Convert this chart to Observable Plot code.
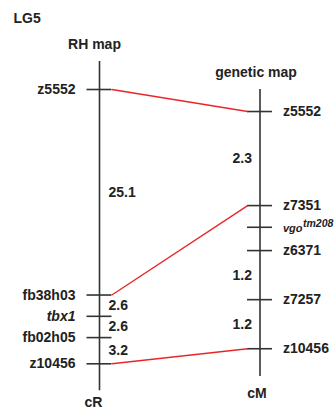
<!DOCTYPE html>
<html>
<head>
<meta charset="utf-8">
<script src="https://cdn.jsdelivr.net/npm/d3@7"></script>
<script src="https://cdn.jsdelivr.net/npm/@observablehq/plot@0.6"></script>
<style>
  html, body { margin: 0; padding: 0; background: #fff; }
  #chart svg { display: block; }
</style>
</head>
<body>
<div id="chart"></div>
<script>
// ---- Data ----
const chartTitle = "LG5";
const mapTitles = ["RH map", "genetic map"];
const mapUnits = ["cR", "cM"];

// RH map (cR): markers top to bottom and the distances between neighbours
const leftMarkers = ["z5552", "fb38h03", "tbx1", "fb02h05", "z10456"];
const leftGaps = [25.1, 2.6, 2.6, 3.2];
const leftGapLabels = ["25.1", "2.6", "2.6", "3.2"];

// genetic map (cM): markers top to bottom; drawn spacing (co-located cluster spread out)
const rightMarkers = ["z5552", "z7351", "vgo", "z6371", "z7257", "z10456"];
const rightGaps = [2.3, 0.53, 0.57, 1.2, 1.2];
const rightGapLabels = ["2.3", "", "", "1.2", "1.2"];
const vgoAllele = "tm208";

const italicMarkers = ["tbx1", "vgo"];
const links = [["z5552", "z5552"], ["fb38h03", "z7351"], ["z10456", "z10456"]];

// ---- Build ----
const leftPos = [0, ...d3.cumsum(leftGaps)];
const rightPosCM = [0, ...d3.cumsum(rightGaps)];
// right map drawn on the same vertical as the left one (cR units)
const rOffset = 2.69, rScale = 4.995;
const toR = cm => rOffset + rScale * cm;

const left = leftMarkers.map((m, i) => ({name: m, x: 0, y: leftPos[i]}));
const right = rightMarkers.map((m, i) => ({name: m, x: 1, y: toR(rightPosCM[i])}));
const leftGapsData = leftGaps.map((g, i) => ({x: 0, y: (leftPos[i] + leftPos[i + 1]) / 2, label: leftGapLabels[i]})).filter(d => d.label);
const rightGapsData = rightGaps.map((g, i) => ({x: 1, y: (right[i].y + right[i + 1].y) / 2, label: rightGapLabels[i]})).filter(d => d.label);
const linkData = links.map(([a, b]) => ({
  y1: left.find(d => d.name === a).y,
  y2: right.find(d => d.name === b).y
}));

const axisLines = [
  {x: 0, y1: -3.42, y2: 36.8},
  {x: 1, y1: toR(-0.54), y2: toR(6.48)}
];

const tickHalfX = 0.077;
const ink = "#222";
const font = {fontSize: 14, fontWeight: "bold", fill: ink, lineAnchor: "middle"};

const isItalic = d => italicMarkers.includes(d.name);

const chart = Plot.plot({
  width: 336,
  height: 410,
  marginTop: 0, marginRight: 0, marginBottom: 0, marginLeft: 0,
  style: {fontFamily: "'Liberation Sans', Arial, Helvetica, sans-serif", background: "#fff"},
  x: {domain: [0, 1], range: [99, 259.5], axis: null},
  y: {domain: [0, 33.5], range: [89, 363.3], axis: null},
  marks: [
    // vertical map axes
    Plot.ruleX(axisLines, {x: "x", y1: "y1", y2: "y2", stroke: "#333", strokeWidth: 1.6}),
    // marker ticks
    Plot.ruleY([...left, ...right], {y: "y", x1: "x", x2: "x", insetLeft: -12.5, insetRight: -12.5, stroke: "#333", strokeWidth: 1.6}),
    // red links between maps
    Plot.link(linkData, {x1: tickHalfX, x2: 1 - tickHalfX, y1: "y1", y2: "y2", stroke: "#e8262a", strokeWidth: 1.4}),
    // left marker names
    Plot.text(left.filter(d => !isItalic(d)), {x: "x", y: "y", text: "name", textAnchor: "end", dx: -24, ...font}),
    Plot.text(left.filter(isItalic), {x: "x", y: "y", text: "name", textAnchor: "end", dx: -24, fontStyle: "italic", ...font}),
    // right marker names
    Plot.text(right.filter(d => !isItalic(d)), {x: "x", y: "y", text: "name", textAnchor: "start", dx: 23, ...font}),
    Plot.text(right.filter(isItalic), {x: "x", y: "y", text: "name", textAnchor: "start", dx: 23, dy: 1, fontStyle: "italic", ...font, fontSize: 11}),
    Plot.text(right.filter(isItalic), {x: "x", y: "y", text: () => vgoAllele, textAnchor: "start", dx: 43, dy: -4, fontStyle: "italic", ...font, fontSize: 10.5}),
    // distance labels
    Plot.text(leftGapsData, {x: "x", y: "y", text: "label", textAnchor: "start", dx: 9, ...font}),
    Plot.text(rightGapsData, {x: "x", y: "y", text: "label", textAnchor: "end", dx: -8, ...font}),
    // titles
    Plot.text([chartTitle], {frameAnchor: "top-left", text: d => d, textAnchor: "start", dx: 13, dy: 18, ...font}),
    Plot.text([mapTitles[0]], {x: [0], frameAnchor: "top", text: d => d, dx: -5, dy: 44.5, ...font}),
    Plot.text([mapTitles[1]], {x: [1], frameAnchor: "top", text: d => d, dx: -4, dy: 72, ...font}),
    Plot.text([mapUnits[0]], {x: [0], frameAnchor: "top", text: d => d, dx: -6, dy: 402.5, ...font}),
    Plot.text([mapUnits[1]], {x: [1], frameAnchor: "top", text: d => d, dx: -3, dy: 393, ...font})
  ]
});
document.getElementById("chart").append(chart);
</script>
</body>
</html>
